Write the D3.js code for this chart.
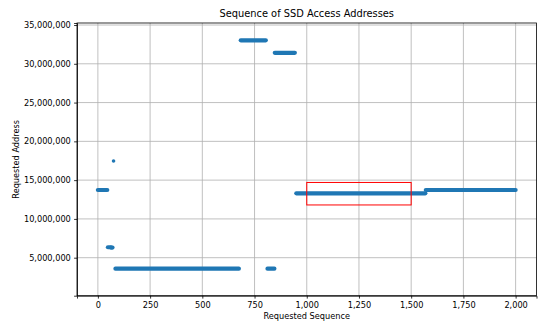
<!DOCTYPE html>
<html>
<head>
<meta charset="utf-8">
<script src="https://cdn.jsdelivr.net/npm/d3@7"></script>
<style>
    html, body { margin: 0; padding: 0; background: #fff; }
    svg { display: block; font-family: 'DejaVu Sans', sans-serif; }
    .grid line { stroke: #b0b0b0; stroke-width: 0.8px; }
    .axis path, .axis line { stroke: #000; stroke-width: 0.8px; }
    .axis text { fill: #000; font-size: 8.2px; font-family: 'DejaVu Sans', sans-serif; }
</style>
</head>
<body>
<div id="chartView"></div>
<script>
// runs of constant address: [start seq, end seq] -> requested address
var runStart = [0, 48, 63, 75, 84, 684, 812, 847, 950, 1570];
var runEnd = [45, 62, 70, 75, 675, 804, 845, 943, 1568, 2000];
var runAddr = [13730000, 6350000, 6310000, 17470000, 3580000, 33030000, 3580000, 31420000, 13300000, 13730000];

var xTicks = [0, 250, 500, 750, 1000, 1250, 1500, 1750, 2000];
var yTicks = [5000000, 10000000, 15000000, 20000000, 25000000, 30000000, 35000000];

// highlighted window
var boxSeq = [1000, 1500];
var boxAddr = [11800000, 14700000];

var settings = {
    width: 538,
    height: 322,
    margin: { top: 23, right: 1.5, bottom: 26.3, left: 77 },
    xDomain: [-100, 2100],
    yDomain: [100000, 35260000],
    color: '#1f77b4',
    markSize: 4.2
};

var fmt = d3.format(',');
var chartWidth = settings.width - settings.margin.left - settings.margin.right;
var chartHeight = settings.height - settings.margin.top - settings.margin.bottom;

var svg = d3.select('#chartView').append('svg')
    .attr('width', settings.width)
    .attr('height', settings.height);

var xScale = d3.scaleLinear().domain(settings.xDomain).range([0, chartWidth]);
var yScale = d3.scaleLinear().domain(settings.yDomain).range([chartHeight, 0]);

var chart = svg.append('g')
    .attr('transform', 'translate(' + settings.margin.left + ',' + settings.margin.top + ')');

// grid
var grid = chart.append('g').attr('class', 'grid');
grid.selectAll('.gx').data(xTicks).enter().append('line')
    .attr('x1', function (d) { return xScale(d); })
    .attr('x2', function (d) { return xScale(d); })
    .attr('y1', 0).attr('y2', chartHeight);
grid.selectAll('.gy').data(yTicks).enter().append('line')
    .attr('y1', function (d) { return yScale(d); })
    .attr('y2', function (d) { return yScale(d); })
    .attr('x1', 0).attr('x2', chartWidth);

// data runs, drawn as dense markers
var runs = runStart.map(function (s, i) {
    return { start: s, end: runEnd[i], addr: runAddr[i] };
});
chart.append('g').attr('class', 'dotArea')
    .selectAll('line').data(runs).enter().append('line')
    .attr('x1', function (d) { return xScale(d.start); })
    .attr('x2', function (d) { return xScale(d.end); })
    .attr('y1', function (d) { return yScale(d.addr); })
    .attr('y2', function (d) { return yScale(d.addr); })
    .attr('stroke', settings.color)
    .attr('stroke-width', function (d) { return d.start === d.end ? 3.6 : settings.markSize; })
    .attr('stroke-linecap', 'round');

// red box
chart.append('rect')
    .attr('x', xScale(boxSeq[0]))
    .attr('y', yScale(boxAddr[1]))
    .attr('width', xScale(boxSeq[1]) - xScale(boxSeq[0]))
    .attr('height', yScale(boxAddr[0]) - yScale(boxAddr[1]))
    .attr('fill', 'none')
    .attr('stroke', 'red')
    .attr('stroke-width', 1);

// axes
chart.append('g').attr('class', 'axis')
    .attr('transform', 'translate(0,' + chartHeight + ')')
    .call(d3.axisBottom(xScale).tickValues(xTicks).tickFormat(fmt).tickSizeOuter(0).tickSize(2.9).tickPadding(3.3));
chart.append('g').attr('class', 'axis')
    .call(d3.axisLeft(yScale).tickValues(yTicks).tickFormat(fmt).tickSizeOuter(0).tickSize(2.9).tickPadding(3.3));

// frame
chart.append('rect')
    .attr('width', chartWidth).attr('height', chartHeight)
    .attr('fill', 'none').attr('stroke', '#000').attr('stroke-width', 0.8);

// labels
svg.append('text')
    .attr('x', settings.margin.left + chartWidth / 2).attr('y', 17.3)
    .attr('text-anchor', 'middle').style('font-size', '9.84px')
    .text('Sequence of SSD Access Addresses');
svg.append('text')
    .attr('x', settings.margin.left + chartWidth / 2).attr('y', 318.5)
    .attr('text-anchor', 'middle').style('font-size', '8.2px')
    .text('Requested Sequence');
svg.append('text')
    .attr('transform', 'translate(18.5,' + (settings.margin.top + chartHeight / 2) + ') rotate(-90)')
    .attr('text-anchor', 'middle').style('font-size', '8.2px')
    .text('Requested Address');
</script>
</body>
</html>
